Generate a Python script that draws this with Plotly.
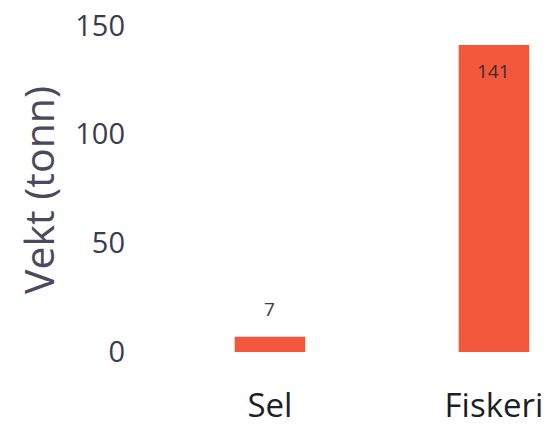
import plotly.graph_objects as go

categories = ["Sel", "Fiskeri"]
values = [7, 141]

bar_color = "#F3583C"
axis_text = "#3b3b4f"

fig = go.Figure(
    go.Bar(
        x=categories,
        y=values,
        marker=dict(color=bar_color, line=dict(width=0)),
        width=0.315,
        hoverinfo="x+y",
    )
)

# Value labels: above the short bar, inside near the top of the tall bar
label_styles = {
    "Sel": dict(yanchor="bottom", yshift=13, color=axis_text),
    "Fiskeri": dict(yanchor="top", yshift=-11, color="#3a2e2e"),
}
for cat, val in zip(categories, values):
    st = label_styles[cat]
    fig.add_annotation(
        x=cat,
        y=val,
        text=str(val),
        showarrow=False,
        yanchor=st["yanchor"],
        yshift=st["yshift"],
        font=dict(family="Open Sans", size=19, color=st["color"]),
    )

fig.update_layout(
    width=556,
    height=434,
    margin=dict(l=140, r=0, t=10, b=64),
    paper_bgcolor="white",
    plot_bgcolor="white",
    showlegend=False,
    font=dict(family="Open Sans", color=axis_text),
    xaxis=dict(
        range=[-0.58, 1.277],
        showgrid=False,
        zeroline=False,
        showline=False,
        ticks="",
        tickfont=dict(size=33, color="#1e1e28"),
        ticklabelstandoff=13,
        automargin=False,
    ),
    yaxis=dict(
        range=[-8.27, 157.1],
        tickvals=[0, 50, 100, 150],
        showgrid=False,
        zeroline=False,
        showline=False,
        ticks="",
        tickfont=dict(size=29, color=axis_text),
        ticklabelstandoff=14,
        title=dict(text="Vekt (tonn)", font=dict(size=41, color="#4a4a5e"), standoff=7),
        automargin=False,
    ),
)

fig.write_html("out.html")
